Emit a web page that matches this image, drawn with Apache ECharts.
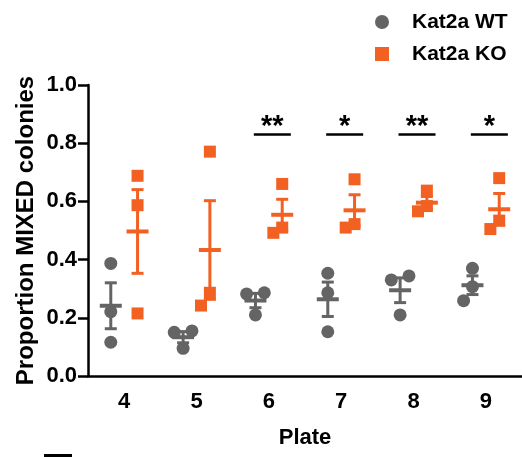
<!DOCTYPE html>
<html>
<head>
<meta charset="utf-8">
<script src="https://cdn.jsdelivr.net/npm/echarts@6/dist/echarts.min.js"></script>
<style>
  html, body { margin: 0; padding: 0; background: #fff; }
  #chart { width: 522px; height: 457px; }
</style>
</head>
<body>
<div id="chart"></div>
<script>
// plates on the x axis
const plates = ['4', '5', '6', '7', '8', '9'];
// proportion of MIXED colonies, 3 replicates per plate
const wtValues = [
  [0.387, 0.221, 0.116],
  [0.155, 0.150, 0.095],
  [0.286, 0.282, 0.210],
  [0.353, 0.286, 0.152],
  [0.344, 0.330, 0.210],
  [0.370, 0.307, 0.259]
];
const koValues = [
  [0.688, 0.587, 0.215],
  [0.771, 0.286, 0.242],
  [0.660, 0.510, 0.492],
  [0.676, 0.522, 0.510],
  [0.637, 0.584, 0.566],
  [0.680, 0.534, 0.505]
];
// significance marks
const sigPlates = ['6', '7', '8', '9'];
const sigMarks = ['**', '*', '**', '*'];
const sigLevel = 0.83;

const FONT = 'Liberation Sans, Arial, Helvetica, sans-serif';
const GRAY = '#646464';
const ORANGE = '#F26122';
const SIDE = 0.185; // WT left, KO right of the plate tick

const mean = a => a.reduce((s, v) => s + v, 0) / a.length;
const sem = a => {
  const m = mean(a);
  return Math.sqrt(a.reduce((s, v) => s + (v - m) * (v - m), 0) / (a.length - 1) / a.length);
};

// simple beeswarm: push overlapping points sideways
function swarm(values, pairRows) {
  const S = 9, PX_Y = 291, PX_X = 73.5, DIA = 15;
  const order = values.map((v, i) => i).sort((a, b) => values[b] - values[a]);
  const off = values.map(() => 0);
  const done = [];
  order.forEach(i => {
    for (const c of [0, -S, S, -2 * S, 2 * S]) {
      const hit = done.some(j => off[j] === c && Math.abs(values[j] - values[i]) * PX_Y < DIA);
      if (!hit) { off[i] = c; break; }
    }
    if (pairRows) {
      done.forEach(j => {
        if (Math.abs(values[j] - values[i]) * PX_Y < 5 && off[j] === 0 && off[i] === -S) off[j] = S;
      });
    }
    done.push(i);
  });
  return off.map(o => o / PX_X);
}

function points(groups, side, pairRows) {
  const out = [];
  groups.forEach((vals, i) => {
    const jit = swarm(vals, pairRows);
    vals.forEach((v, k) => out.push([Number(plates[i]) + side + jit[k], v]));
  });
  return out;
}

function errData(groups, side) {
  return groups.map((vals, i) => {
    const m = mean(vals), e = sem(vals);
    return [Number(plates[i]) + side, m, m - e, m + e];
  });
}

function errRender(color) {
  return function (params, api) {
    const x = api.value(0);
    const m = api.coord([x, api.value(1)]);
    const lo = api.coord([x, api.value(2)]);
    const hi = api.coord([x, api.value(3)]);
    const st = { stroke: color, lineWidth: 3 };
    return {
      type: 'group',
      children: [
        { type: 'line', shape: { x1: m[0], y1: lo[1], x2: m[0], y2: hi[1] }, style: st },
        { type: 'line', shape: { x1: m[0] - 6, y1: lo[1], x2: m[0] + 6, y2: lo[1] }, style: st },
        { type: 'line', shape: { x1: m[0] - 6, y1: hi[1], x2: m[0] + 6, y2: hi[1] }, style: st },
        { type: 'line', shape: { x1: m[0] - 11, y1: m[1], x2: m[0] + 11, y2: m[1] }, style: { stroke: color, lineWidth: 4 } }
      ]
    };
  };
}

function sigRender(params, api) {
  const c = api.coord([api.value(0), api.value(1)]);
  const mark = sigMarks[api.value(2)];
  const cx = c[0] + 3.5;
  return {
    type: 'group',
    children: [
      { type: 'line', shape: { x1: cx - 18.5, y1: c[1], x2: cx + 18.5, y2: c[1] }, style: { stroke: '#000', lineWidth: 2.5 } },
      { type: 'text', style: { text: mark, x: cx, y: c[1] - 7, align: 'center', verticalAlign: 'middle', font: 'bold 29px ' + FONT, fill: '#000' } }
    ]
  };
}

const chart = echarts.init(document.getElementById('chart'));
chart.setOption({
  animation: false,
  textStyle: { fontFamily: FONT },
  grid: { left: 88, top: 85, width: 441, height: 291, containLabel: false },
  legend: {
    orient: 'vertical',
    left: 370,
    top: 6,
    itemWidth: 14,
    itemHeight: 14,
    itemGap: 10,
    data: ['Kat2a WT', 'Kat2a KO'],
    textStyle: { fontSize: 21, fontWeight: 'bold', color: '#000', fontFamily: FONT, lineHeight: 22, padding: [0, 0, 0, 18] }
  },
  xAxis: [
    {
      type: 'category',
      data: plates,
      name: 'Plate',
      nameLocation: 'middle',
      nameGap: 51,
      nameTextStyle: { fontSize: 22, fontWeight: 'bold', color: '#000', fontFamily: FONT },
      axisLine: { lineStyle: { color: '#000', width: 2.5 } },
      axisTick: { alignWithLabel: true, length: 10, lineStyle: { color: '#000', width: 2.5 } },
      axisLabel: { fontSize: 22, fontWeight: 'bold', color: '#000', margin: 15, fontFamily: FONT },
      splitLine: { show: false }
    },
    { type: 'value', min: 3.5, max: 9.5, show: false }
  ],
  yAxis: {
    type: 'value',
    min: 0,
    max: 1,
    interval: 0.2,
    name: 'Proportion MIXED colonies',
    nameLocation: 'middle',
    nameGap: 50,
    nameMoveOverlap: false,
    nameTextStyle: { fontSize: 24, fontWeight: 'bold', color: '#000', fontFamily: FONT },
    axisLine: { show: true, lineStyle: { color: '#000', width: 2.5 } },
    axisTick: { show: true, length: 10, lineStyle: { color: '#000', width: 2.5 } },
    axisLabel: { fontSize: 22, fontWeight: 'bold', color: '#000', margin: 11, fontFamily: FONT, formatter: v => v.toFixed(1) },
    splitLine: { show: false }
  },
  series: [
    {
      name: 'WT sem', type: 'custom', xAxisIndex: 1, z: 2,
      renderItem: errRender(GRAY), data: errData(wtValues, -SIDE),
      encode: { x: 0, y: [1, 2, 3] }
    },
    {
      name: 'KO sem', type: 'custom', xAxisIndex: 1, z: 2,
      renderItem: errRender(ORANGE), data: errData(koValues, SIDE),
      encode: { x: 0, y: [1, 2, 3] }
    },
    {
      name: 'Kat2a WT', type: 'scatter', xAxisIndex: 1, z: 3,
      symbol: 'circle', symbolSize: 13,
      itemStyle: { color: GRAY, opacity: 1 },
      data: points(wtValues, -SIDE, true)
    },
    {
      name: 'Kat2a KO', type: 'scatter', xAxisIndex: 1, z: 3,
      symbol: 'rect', symbolSize: 12,
      itemStyle: { color: ORANGE, opacity: 1 },
      data: points(koValues, SIDE, false)
    },
    {
      name: 'sig', type: 'custom', xAxisIndex: 1, z: 4,
      renderItem: sigRender,
      data: sigPlates.map((p, i) => [Number(p), sigLevel, i]),
      encode: { x: 0, y: 1 }
    }
  ],
  graphic: [
    { type: 'rect', shape: { x: 44, y: 454, width: 28, height: 3 }, style: { fill: '#000' } }
  ]
});
</script>
</body>
</html>
